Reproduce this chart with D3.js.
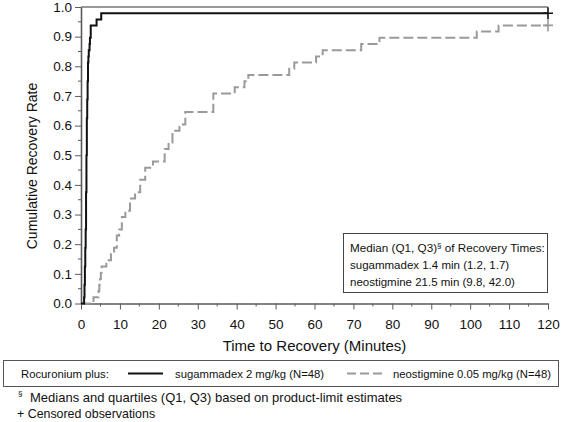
<!DOCTYPE html>
<html>
<head>
<meta charset="utf-8">
<script src="https://cdn.jsdelivr.net/npm/d3@7"></script>
<style>
  html, body { margin:0; padding:0; background:#fff; }
  svg { display:block; font-family:"Liberation Sans", Arial, sans-serif; }
</style>
</head>
<body>
<div id="chart"></div>
<script>
// Kaplan-Meier style cumulative recovery curves, sugammadex vs neostigmine
const sugTimes = [0.8, 0.9, 1.0, 1.1, 1.2, 1.3, 1.4, 1.5, 1.6, 1.7, 1.8, 1.9, 2.0, 2.2, 2.3, 2.5, 4.0, 5.2];
const sugRates = [0.021, 0.063, 0.125, 0.188, 0.250, 0.375, 0.500, 0.625, 0.688, 0.750, 0.813, 0.833, 0.854, 0.875, 0.896, 0.938, 0.958, 0.979];

const neoTimes = [3.2, 4.5, 4.7, 4.9, 5.1, 5.3, 6.5, 7.7, 8.5, 9.2, 9.8, 10.5, 11.4, 12.6, 13.9, 15.2, 16.5, 18.5,
                  21.5, 22.5, 23.5, 25.3, 26.8, 34.0, 39.5, 42.0, 43.0, 53.5, 54.8, 60.4, 62.1, 72.0, 76.7, 101.7, 107.3];
const neoRates = [0.021, 0.042, 0.063, 0.083, 0.104, 0.125, 0.146, 0.167, 0.188, 0.229, 0.250, 0.292, 0.313, 0.354, 0.375, 0.417, 0.458, 0.479,
                  0.521, 0.542, 0.583, 0.604, 0.646, 0.708, 0.729, 0.750, 0.771, 0.792, 0.813, 0.833, 0.854, 0.875, 0.896, 0.917, 0.938];

const censorTime = 120;
const xTicks = [0, 10, 20, 30, 40, 50, 60, 70, 80, 90, 100, 110, 120];
const yTicks = [0, 0.1, 0.2, 0.3, 0.4, 0.5, 0.6, 0.7, 0.8, 0.9, 1.0];

const boxLines = ['sugammadex 1.4 min (1.2, 1.7)', 'neostigmine 21.5 min (9.8, 42.0)'];
const legendLabels = ['sugammadex 2 mg/kg (N=48)', 'neostigmine 0.05 mg/kg (N=48)'];

const W = 564, H = 422;
const margin = {top:7, left:81};
const width = 467, height = 296.5;
const axisColor = '#5a5a5a';
const neoColor = '#9a9a9a';

const svg = d3.select('#chart').append('svg').attr('width', W).attr('height', H);
const g = svg.append('g').attr('transform', `translate(${margin.left},${margin.top})`);

const x = d3.scaleLinear().domain([0, 120]).range([0, width]);
const y = d3.scaleLinear().domain([0, 1]).range([height, 0]);

// top frame line
g.append('line').attr('x1', 0).attr('x2', width).attr('y1', y(1)).attr('y2', y(1))
  .attr('stroke', '#333').attr('stroke-width', 1);

// minor ticks
const xMinor = d3.range(5, 120, 10);
const yMinor = d3.range(0.05, 1, 0.1);
g.append('g').selectAll('line').data(xMinor).enter().append('line')
  .attr('x1', d => x(d)).attr('x2', d => x(d)).attr('y1', height).attr('y2', height + 3)
  .attr('stroke', axisColor);
g.append('g').selectAll('line').data(yMinor).enter().append('line')
  .attr('y1', d => y(d)).attr('y2', d => y(d)).attr('x1', 0).attr('x2', -3)
  .attr('stroke', axisColor);

const xAxis = g.append('g').attr('transform', `translate(0,${height})`)
  .call(d3.axisBottom(x).tickValues(xTicks).tickSize(6).tickPadding(10).tickSizeOuter(0));
const yAxis = g.append('g')
  .call(d3.axisLeft(y).tickValues(yTicks).tickFormat(d3.format('.1f')).tickSize(6).tickPadding(3).tickSizeOuter(0));
[xAxis, yAxis].forEach(a => {
  a.select('.domain').attr('stroke', axisColor).attr('stroke-width', 1.6);
  a.selectAll('.tick line').attr('stroke', axisColor);
  a.selectAll('.tick text').attr('font-size', 13.5).attr('fill', '#111')
    .attr('font-family', '"Liberation Sans", Arial, sans-serif');
});

// step curves
function steps(times, rates){
  const pts = [[0, 0]];
  times.forEach((t, i) => pts.push([t, rates[i]]));
  pts.push([censorTime, rates[rates.length - 1]]);
  return pts;
}
const line = d3.line().x(d => x(d[0])).y(d => y(d[1])).curve(d3.curveStepAfter);

g.append('path').datum(steps(neoTimes, neoRates)).attr('d', line)
  .attr('fill', 'none').attr('stroke', neoColor).attr('stroke-width', 2).attr('stroke-dasharray', '10,4');
g.append('path').datum(steps(sugTimes, sugRates)).attr('d', line)
  .attr('fill', 'none').attr('stroke', '#111').attr('stroke-width', 2);

// censor markers
const cens = [
  {r: sugRates[sugRates.length - 1], c: '#111'},
  {r: neoRates[neoRates.length - 1], c: neoColor}
];
cens.forEach(d => {
  const cx = x(censorTime), cy = y(d.r);
  g.append('path').attr('d', `M${cx - 5},${cy}H${cx + 5}M${cx},${cy - 6}V${cy + 6}`)
    .attr('stroke', d.c).attr('stroke-width', 1.6);
});

// axis titles
svg.append('text').attr('x', margin.left + width / 2).attr('y', 351).attr('text-anchor', 'middle')
  .attr('font-size', 15).attr('fill', '#111').text('Time to Recovery (Minutes)');
svg.append('text').attr('transform', `translate(37,166) rotate(-90)`)
  .attr('text-anchor', 'middle').attr('font-size', 14).attr('fill', '#111').text('Cumulative Recovery Rate');

// summary box
svg.append('rect').attr('x', 343.5).attr('y', 233.5).attr('width', 204).attr('height', 59)
  .attr('fill', '#fff').attr('stroke', '#444').attr('stroke-width', 1);
const t1 = svg.append('text').attr('x', 350).attr('y', 252).attr('font-size', 11.7).attr('fill', '#111');
t1.append('tspan').text('Median (Q1, Q3)');
t1.append('tspan').attr('font-size', 8).attr('dy', -4).text('§');
t1.append('tspan').attr('dy', 4).text(' of Recovery Times:');
boxLines.forEach((s, i) => {
  svg.append('text').attr('x', 350).attr('y', 269 + i * 17).attr('font-size', 11.5).attr('fill', '#111').text(s);
});

// legend
svg.append('rect').attr('x', 3.5).attr('y', 360.5).attr('width', 555).attr('height', 26)
  .attr('fill', 'none').attr('stroke', '#555').attr('stroke-width', 1);
svg.append('text').attr('x', 21).attr('y', 378).attr('font-size', 11.3).attr('fill', '#111').text('Rocuronium plus:');
svg.append('line').attr('x1', 128).attr('x2', 163).attr('y1', 373.5).attr('y2', 373.5)
  .attr('stroke', '#111').attr('stroke-width', 2);
svg.append('text').attr('x', 175).attr('y', 378).attr('font-size', 11.3).attr('fill', '#111').text(legendLabels[0]);
svg.append('line').attr('x1', 347).attr('x2', 382).attr('y1', 373.5).attr('y2', 373.5)
  .attr('stroke', neoColor).attr('stroke-width', 2).attr('stroke-dasharray', '9,4');
svg.append('text').attr('x', 393).attr('y', 378).attr('font-size', 11.3).attr('fill', '#111').text(legendLabels[1]);

// footnotes
svg.append('text').attr('x', 18).attr('y', 396).attr('font-size', 8).attr('fill', '#111').text('§');
svg.append('text').attr('x', 30).attr('y', 402).attr('font-size', 13).attr('fill', '#111')
  .text('Medians and quartiles (Q1, Q3) based on product-limit estimates');
svg.append('text').attr('x', 17).attr('y', 418).attr('font-size', 12.4).attr('fill', '#111')
  .text('+ Censored observations');
</script>
</body>
</html>
